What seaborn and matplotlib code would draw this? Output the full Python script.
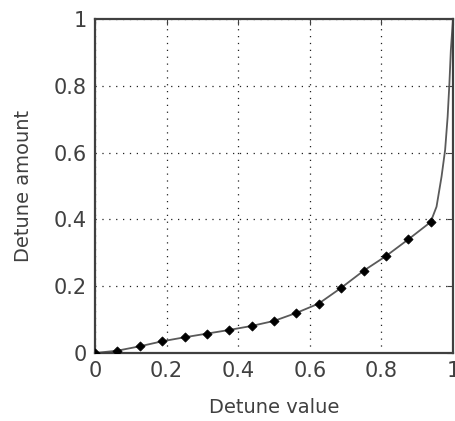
import pandas as pd
import matplotlib
matplotlib.use("Agg")
import matplotlib.pyplot as plt
import seaborn as sns

# marker samples (every 1/16 of the detune value)
marker_x = [0, 0.0625, 0.125, 0.1875, 0.25, 0.3125, 0.375, 0.4375,
            0.5, 0.5625, 0.625, 0.6875, 0.75, 0.8125, 0.875, 0.9375]
marker_y = [0.0, 0.007, 0.020, 0.035, 0.047, 0.058, 0.069, 0.081,
            0.096, 0.120, 0.148, 0.195, 0.246, 0.290, 0.340, 0.392]

# extra points read along the steep end of the curve
tail_x = [0.954, 0.968, 0.978, 0.985, 0.990, 0.994, 1.0]
tail_y = [0.438, 0.528, 0.608, 0.707, 0.808, 0.907, 1.0]

x_ticks = [0, 0.2, 0.4, 0.6, 0.8, 1]
x_labels = ["0", "0.2", "0.4", "0.6", "0.8", "1"]
y_ticks = [0, 0.2, 0.4, 0.6, 0.8, 1]
y_labels = ["0", "0.2", "0.4", "0.6", "0.8", "1"]

curve = pd.DataFrame({"x": marker_x + tail_x, "y": marker_y + tail_y})
marks = pd.DataFrame({"x": marker_x, "y": marker_y})

sns.set_style("white")
plt.rcParams["font.family"] = ["DejaVu Sans"]

fig = plt.figure(figsize=(4.55, 4.21), dpi=100)
ax = fig.add_axes([95 / 455, 68 / 421, 358 / 455, 334 / 421])

sns.lineplot(data=curve, x="x", y="y", ax=ax, color="#5a5a5a", linewidth=1.3,
             sort=False)
sns.scatterplot(data=marks, x="x", y="y", ax=ax, marker="D", s=22,
                color="black", edgecolor="black", linewidth=0.5, zorder=3)

ax.set_xlim(0, 1)
ax.set_ylim(0, 1)
ax.set_xticks(x_ticks)
ax.set_xticklabels(x_labels)
ax.set_yticks(y_ticks)
ax.set_yticklabels(y_labels)
ax.grid(True, color="#202020", linestyle=(0, (1, 4.5)), linewidth=0.9)
ax.tick_params(direction="in", length=4, width=0.8, labelsize=15,
               top=True, right=True, colors="#404040", pad=6)
ax.tick_params(axis="x", pad=6)
for s in ax.spines.values():
    s.set_visible(True)
    s.set_color("#404040")
    s.set_linewidth(1.6)

ax.set_xlabel("Detune value", fontsize=14, color="#404040", labelpad=12)
ax.set_ylabel("Detune amount", fontsize=14, color="#404040", labelpad=15)

fig.savefig("out.png", dpi=100)
